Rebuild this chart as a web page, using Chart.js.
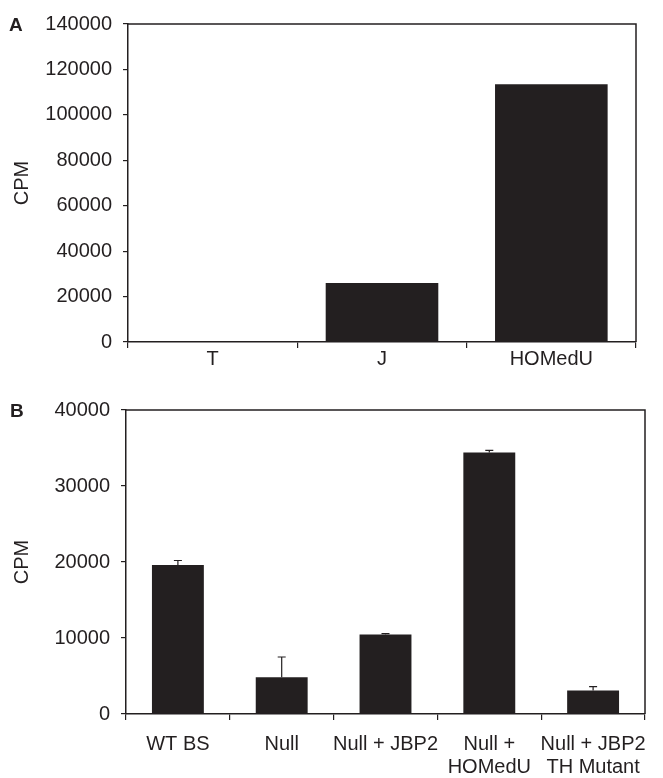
<!DOCTYPE html>
<html><head><meta charset="utf-8">
<script src="https://cdn.jsdelivr.net/npm/chart.js@4.4.1/dist/chart.umd.min.js"></script>
<style>
html,body{margin:0;padding:0;background:#fff;}
body{width:663px;height:778px;position:relative;overflow:hidden;font-family:"Liberation Sans",Arial,sans-serif;}
.wrap{position:absolute;left:0;width:663px;}
.panel{position:absolute;font-weight:bold;font-size:19px;line-height:19px;color:#231f20;}
</style></head><body>
<div class="wrap" style="top:0;height:375px"><canvas id="cA"></canvas></div>
<div class="wrap" style="top:385px;height:393px"><canvas id="cB"></canvas></div>
<div class="panel" style="left:9px;top:15px">A</div>
<div class="panel" style="left:10px;top:401px">B</div>
<script>
// ---- data ----
const categoriesA = ['T', 'J', 'HOMedU'];
const valuesA = [0, 26000, 113500];
const yMaxA = 140000;
const yStepA = 20000;

const categoriesB = ['WT BS', 'Null', 'Null + JBP2', ['Null +', 'HOMedU'], ['Null + JBP2', 'TH Mutant']];
const valuesB = [19600, 4850, 10450, 34400, 3100];
const errorsB = [600, 2650, 120, 300, 500];
const yMaxB = 40000;
const yStepB = 10000;

const yTitle = 'CPM';

// ---- style ----
const INK = '#231f20';
const FONT = "'Liberation Sans', Arial, sans-serif";

const framePlugin = {
  id: 'frame',
  afterDraw(chart) {
    const { ctx, chartArea: a } = chart;
    ctx.save();
    ctx.strokeStyle = INK;
    ctx.lineWidth = 1.5;
    ctx.beginPath();
    ctx.moveTo(a.left, a.top);
    ctx.lineTo(a.right, a.top);
    ctx.lineTo(a.right, a.bottom);
    ctx.stroke();
    ctx.restore();
  }
};

const errorBarPlugin = {
  id: 'errbars',
  afterDatasetsDraw(chart, args, opts) {
    const errs = opts.errors;
    if (!errs) return;
    const { ctx } = chart;
    const y = chart.scales.y;
    const meta = chart.getDatasetMeta(0);
    const vals = chart.data.datasets[0].data;
    ctx.save();
    ctx.strokeStyle = INK;
    ctx.lineWidth = 1.2;
    meta.data.forEach((bar, i) => {
      const x = bar.x;
      const y0 = y.getPixelForValue(vals[i]);
      const y1 = y.getPixelForValue(vals[i] + errs[i]);
      ctx.beginPath();
      ctx.moveTo(x, y0);
      ctx.lineTo(x, y1);
      ctx.moveTo(x - 4, y1);
      ctx.lineTo(x + 4, y1);
      ctx.stroke();
    });
    ctx.restore();
  }
};

function makeChart(id, cats, vals, yMax, step, cfg) {
  return new Chart(document.getElementById(id), {
    type: 'bar',
    data: {
      labels: cats,
      datasets: [{
        data: vals,
        backgroundColor: INK,
        borderWidth: 0,
        barPercentage: cfg.barPct,
        categoryPercentage: 1
      }]
    },
    options: {
      responsive: true,
      maintainAspectRatio: false,
      animation: false,
      layout: { padding: cfg.padding },
      plugins: {
        legend: { display: false },
        tooltip: { enabled: false },
        errbars: { errors: cfg.errors || null }
      },
      scales: {
        x: {
          grid: { display: true, drawOnChartArea: false, drawTicks: true, tickLength: 6, color: INK, lineWidth: 1.2, offset: true },
          border: { display: true, color: INK, width: 1.5 },
          ticks: { color: INK, font: { family: FONT, size: cfg.xFont, lineHeight: 1.15 }, padding: cfg.xPad, maxRotation: 0, autoSkip: false },
          afterFit(s) { s.height = cfg.xHeight; }
        },
        y: {
          min: 0, max: yMax,
          grid: { display: true, drawOnChartArea: false, drawTicks: true, tickLength: 5, color: INK, lineWidth: 1.2 },
          border: { display: true, color: INK, width: 1.5 },
          ticks: { stepSize: step, color: INK, font: { family: FONT, size: cfg.yFont }, padding: 11, callback: v => String(v) },
          title: { display: true, text: yTitle, color: INK, font: { family: FONT, size: 20 }, padding: { top: 10, bottom: 0 } },
          afterFit(s) { s.width = cfg.yWidth; }
        }
      }
    },
    plugins: [framePlugin, errorBarPlugin]
  });
}

makeChart('cA', categoriesA, valuesA, yMaxA, yStepA, {
  barPct: 0.665, padding: { top: 24, right: 27, left: 0, bottom: 0 },
  xHeight: 33, yWidth: 128, xFont: 20, yFont: 20, xPad: 0
});
makeChart('cB', categoriesB, valuesB, yMaxB, yStepB, {
  barPct: 0.5, padding: { top: 25, right: 18, left: 0, bottom: 0 },
  xHeight: 64, yWidth: 126, xFont: 20, yFont: 20, xPad: 13, errors: errorsB
});
</script>
</body></html>
